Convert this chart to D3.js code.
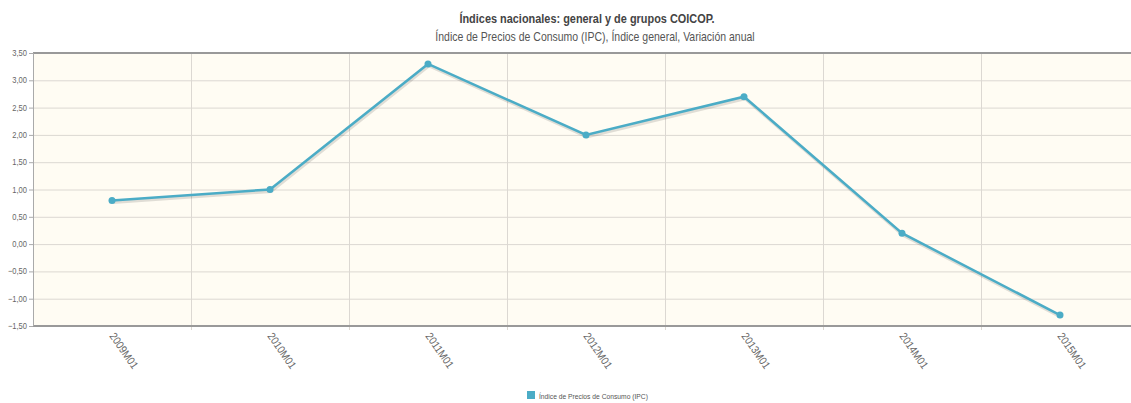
<!DOCTYPE html>
<html>
<head>
<meta charset="utf-8">
<script src="https://cdn.jsdelivr.net/npm/d3@7"></script>
<style>
  body { margin: 0; background: #fff; }
  text { font-family: "Liberation Sans", Arial, sans-serif; }
</style>
</head>
<body>
<svg width="1131" height="403"></svg>
<script>
// data
var periods = ["2009M01", "2010M01", "2011M01", "2012M01", "2013M01", "2014M01", "2015M01"];
var ipcValues = [0.8, 1.0, 3.3, 2.0, 2.7, 0.2, -1.3];
var yTicks = [-1.5, -1, -0.5, 0, 0.5, 1, 1.5, 2, 2.5, 3, 3.5];
var seriesName = "Índice de Precios de Consumo (IPC)";

var svg = d3.select("svg");
var plotLeft = 33, plotRight = 1139, plotTop = 53, plotBottom = 326;
var lineColor = "#4bacc6";
var narrow = 0.84; // reference font is condensed

var x = d3.scaleBand().domain(periods).range([plotLeft, plotRight]);
var y = d3.scaleLinear().domain([-1.5, 3.5]).range([plotBottom, plotTop]);

// condensed text helper: anchor point (cx, cy), squeezed horizontally
function narrowText(parent, cx, cy, anchor) {
  return parent.append("g")
    .attr("transform", "translate(" + cx + "," + cy + ") scale(" + narrow + ",1)")
    .append("text").attr("text-anchor", anchor || "start");
}

// titles
narrowText(svg, 587, 23, "middle")
  .style("font-size", "13px").style("font-weight", "bold").style("fill", "#444")
  .text("Índices nacionales: general y de grupos COICOP.");
narrowText(svg, 595, 41, "middle")
  .style("font-size", "12.5px").style("fill", "#555")
  .text("Índice de Precios de Consumo (IPC),  Índice general,  Variación anual");

// plot background
svg.append("rect")
  .attr("x", plotLeft).attr("y", plotTop)
  .attr("width", plotRight - plotLeft).attr("height", plotBottom - plotTop)
  .attr("fill", "#fffcf3");

var g = svg.append("g");

// horizontal grid
g.selectAll("line.hgrid")
  .data(yTicks.slice(1, -1))
  .enter().append("line")
  .attr("class", "hgrid")
  .attr("x1", plotLeft).attr("x2", plotRight)
  .attr("y1", d => y(d) + 0.5).attr("y2", d => y(d) + 0.5)
  .attr("stroke", "#dcd8d2").attr("stroke-width", 1);

// vertical grid between categories
g.selectAll("line.vgrid")
  .data(periods.slice(1))
  .enter().append("line")
  .attr("class", "vgrid")
  .attr("x1", d => x(d) + 0.5).attr("x2", d => x(d) + 0.5)
  .attr("y1", plotTop).attr("y2", plotBottom + 4)
  .attr("stroke", "#dcd8d2").attr("stroke-width", 1);

// frame: top and bottom darker, left axis
g.append("line")
  .attr("x1", plotLeft).attr("x2", plotRight).attr("y1", plotTop).attr("y2", plotTop)
  .attr("stroke", "#999").attr("stroke-width", 2);
g.append("line")
  .attr("x1", plotLeft).attr("x2", plotRight).attr("y1", plotBottom).attr("y2", plotBottom)
  .attr("stroke", "#999").attr("stroke-width", 2);
g.append("line")
  .attr("x1", plotLeft + 0.5).attr("x2", plotLeft + 0.5).attr("y1", plotTop).attr("y2", plotBottom)
  .attr("stroke", "#aaa").attr("stroke-width", 1);

// y axis labels and ticks
var fmt = d3.format(".2f");
var yAxis = g.append("g");
yAxis.selectAll("line")
  .data(yTicks).enter().append("line")
  .attr("x1", plotLeft - 4).attr("x2", plotLeft)
  .attr("y1", d => y(d) + 0.5).attr("y2", d => y(d) + 0.5)
  .attr("stroke", "#aaa");
yTicks.forEach(function(d) {
  narrowText(yAxis, plotLeft - 6, y(d) + 3, "end")
    .style("font-size", "9px").style("fill", "#666")
    .text(fmt(d).replace(".", ","));
});

// x labels rotated
g.selectAll("text.xlab")
  .data(periods).enter().append("text")
  .attr("class", "xlab")
  .attr("transform", d => "translate(" + (x(d) + x.bandwidth() / 2 - 3) + "," + (plotBottom + 10) + ") rotate(55) scale(0.9,1)")
  .style("font-size", "11px").style("fill", "#666")
  .text(d => d);

var pts = periods.map((p, i) => [x(p) + x.bandwidth() / 2, y(ipcValues[i])]);
var line = d3.line();

// shadow
g.append("path")
  .attr("d", line(pts))
  .attr("transform", "translate(1,2)")
  .attr("fill", "none").attr("stroke", "#000").attr("stroke-opacity", 0.12)
  .attr("stroke-width", 3);

g.append("path")
  .attr("d", line(pts))
  .attr("fill", "none").attr("stroke", lineColor).attr("stroke-width", 2.5);

g.selectAll("circle")
  .data(pts).enter().append("circle")
  .attr("cx", d => d[0]).attr("cy", d => d[1]).attr("r", 3.5)
  .attr("fill", lineColor);

// legend
svg.append("rect")
  .attr("x", 527).attr("y", 391).attr("width", 8).attr("height", 8)
  .attr("fill", lineColor);
narrowText(svg, 539, 398.5)
  .style("font-size", "8px").style("fill", "#555")
  .text(seriesName);
</script>
</body>
</html>
